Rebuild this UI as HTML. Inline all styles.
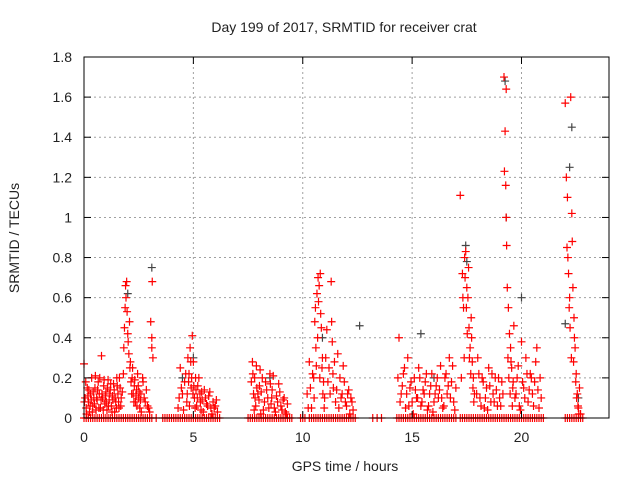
<!DOCTYPE html>
<html><head><meta charset="utf-8"><style>
body{margin:0;background:#fff;}
svg{font-family:"Liberation Sans",sans-serif;}
</style></head><body>
<svg id="chart" width="640" height="480">
<text x="344" y="32" font-size="14" text-anchor="middle" fill="#222">Day 199 of 2017, SRMTID for receiver crat</text>
<text x="345" y="471" font-size="14" text-anchor="middle" fill="#222">GPS time / hours</text>
<text transform="translate(19,238) rotate(-90)" font-size="14" text-anchor="middle" fill="#222">SRMTID / TECUs</text>
<g id="grid"></g>
<g id="marks"></g>
<rect x="84" y="57" width="525" height="361" fill="none" stroke="#000" stroke-width="1"/>
<g id="ticks"></g>
</svg>
<script>
const xTicks=[0,5,10,15,20];
const yTicks=[0,0.2,0.4,0.6,0.8,1,1.2,1.4,1.6,1.8];
const yTickLabels=["0","0.2","0.4","0.6","0.8","1","1.2","1.4","1.6","1.8"];
const redT=[0,0.05,0.1,0.15,0.2,0.25,0.3,0.35,0.4,0.45,0.5,0.55,0.6,0.65,0.7,0.75,0.8,0.85,0.9,0.95,1.0,1.05,1.1,1.15,1.2,1.25,1.3,1.35,1.4,1.45,1.5,1.55,1.6,1.65,1.7,
1.8,1.85,1.9,1.92,1.95,1.97,2.0,2.02,2.05,2.1,2.15,2.2,2.25,2.3,2.35,2.4,2.45,2.5,2.55,2.6,2.7,2.8,2.9,3.0,
3.05,3.1,3.12,3.15,3.1,
4.3,4.4,4.5,4.6,4.7,4.75,4.8,4.85,4.9,4.95,5.0,5.05,5.1,5.15,5.2,5.3,5.35,5.4,5.5,5.6,5.7,5.8,5.9,6.0,6.1,
7.7,7.75,7.8,7.85,7.9,8.0,8.05,8.1,8.2,8.3,8.4,8.5,8.55,8.6,8.7,8.8,8.9,9.0,9.1,9.2,9.3,
10.2,10.3,10.4,10.5,10.55,10.6,10.65,10.7,10.75,10.8,10.85,10.9,10.95,11.0,11.1,11.2,11.3,11.35,11.4,11.5,11.6,11.7,11.8,11.9,12.0,12.1,12.2,12.3,
14.4,14.5,14.6,14.7,14.8,14.9,15.0,15.1,15.2,15.3,15.4,15.5,15.6,15.7,15.8,15.9,16.0,16.1,16.2,16.3,16.4,16.5,16.6,16.7,16.8,16.9,17.0,
17.2,17.3,17.35,17.4,17.45,17.5,17.55,17.6,17.65,17.7,17.75,17.8,17.85,
18.0,18.1,18.2,18.3,18.4,18.5,18.6,18.7,18.8,18.9,19.0,19.1,
19.2,19.25,19.3,19.22,19.28,19.3,19.32,19.35,19.4,19.45,19.5,19.55,19.6,19.65,
19.7,19.8,19.9,20.0,20.1,20.2,20.3,20.4,20.5,20.6,20.7,20.8,20.9,
22.0,22.05,22.1,22.15,22.2,22.25,22.3,22.32,22.35,22.4,22.45,22.5,22.55,22.6,22.65,22.7];
const redV=[.27,.1,.05,.15,.08,.03,.12,.2,.06,.1,.15,.04,.09,.18,.12,.05,.31,.1,.16,.07,.13,.04,.19,.09,.14,.06,.11,.17,.03,.08,.2,.12,.05,.15,.1,
.22,.45,.66,.6,.68,.53,.42,.38,.32,.25,.18,.2,.12,.16,.08,.14,.22,.1,.05,.12,.18,.08,.06,.03,
.48,.4,.68,.3,.35,
.05,.25,.12,.18,.08,.3,.22,.35,.15,.41,.28,.1,.2,.06,.16,.12,.04,.09,.14,.07,.11,.05,.08,.06,.03,
.28,.12,.2,.06,.15,.09,.24,.13,.04,.18,.1,.22,.07,.14,.05,.11,.17,.06,.09,.03,.07,
.12,.28,.05,.2,.48,.35,.62,.7,.66,.72,.45,.3,.18,.1,.44,.25,.68,.38,.15,.08,.32,.2,.12,.18,.06,.14,.1,.04,
.4,.12,.22,.05,.3,.15,.08,.2,.1,.25,.06,.14,.18,.04,.12,.22,.08,.16,.1,.26,.05,.2,.12,.3,.18,.08,.15,
1.11,.72,.55,.8,.83,.65,.6,.45,.35,.5,.28,.2,.12,
.3,.1,.2,.05,.15,.25,.08,.12,.2,.06,.1,.18,
1.7,1.43,1.64,1.23,1.16,1.0,.86,.65,.55,.42,.35,.25,.15,.46,
.1,.2,.06,.38,.15,.3,.08,.22,.12,.18,.35,.05,.1,
1.57,1.2,1.1,.72,.6,1.6,1.02,.88,.65,.5,.35,.22,.12,.05,.15,.02];
const extraT=[0.02,0.08,0.12,0.18,0.22,0.28,0.33,0.38,0.42,0.48,0.52,0.58,0.62,0.68,0.72,0.78,0.82,0.88,0.92,0.98,1.02,1.08,1.12,1.18,1.22,1.28,1.32,1.38,1.42,1.48,1.52,1.58,1.62,1.68,1.75,1.82,1.88,2.08,2.12,2.18,2.22,2.28,2.32,2.38,2.42,2.48,2.52,2.58,2.62,2.68,2.75,2.85,2.95,
4.35,4.45,4.55,4.65,4.72,4.78,4.82,4.88,4.92,4.98,5.02,5.08,5.12,5.18,5.25,5.32,5.38,5.45,5.55,5.65,5.75,5.85,5.95,6.05,
7.65,7.72,7.78,7.82,7.88,7.95,8.02,8.08,8.15,8.25,8.35,8.45,8.52,8.58,8.65,8.75,8.85,8.95,9.05,9.15,9.25,
10.25,10.35,10.45,10.52,10.58,10.62,10.68,10.72,10.78,10.82,10.88,10.92,10.98,11.05,11.15,11.25,11.32,11.38,11.45,11.55,11.65,11.75,11.85,11.95,12.05,12.15,12.25,
14.35,14.45,14.55,14.65,14.75,14.85,14.95,15.05,15.15,15.25,15.35,15.45,15.55,15.65,15.75,15.85,15.95,16.05,16.15,16.25,16.35,16.45,16.55,16.65,16.75,16.85,16.95,
17.25,17.32,17.38,17.42,17.48,17.52,17.58,17.62,17.68,17.72,17.78,17.82,
17.95,18.05,18.15,18.25,18.35,18.45,18.55,18.65,18.75,18.85,18.95,19.05,19.15,
19.38,19.42,19.48,19.52,19.58,19.62,19.75,19.85,19.95,20.05,20.15,20.25,20.35,20.45,20.55,20.65,20.75,20.85,
22.08,22.12,22.18,22.22,22.28,22.38,22.42,22.48,22.52,22.58,22.62];
const extraV=[.08,.18,.02,.11,.14,.06,.09,.03,.13,.07,.21,.1,.14,.05,.2,.09,.12,.04,.19,.11,.08,.15,.06,.12,.17,.03,.09,.14,.1,.05,.16,.08,.2,.06,.13,.35,.55,.48,.28,.12,.25,.08,.19,.11,.06,.16,.13,.09,.03,.2,.1,.14,.05,
.1,.15,.04,.22,.12,.18,.06,.28,.2,.12,.16,.05,.14,.1,.2,.08,.13,.03,.1,.06,.13,.02,.05,.09,
.18,.22,.04,.1,.26,.12,.16,.02,.2,.08,.14,.05,.17,.1,.21,.03,.08,.13,.04,.1,.02,
.05,.15,.22,.1,.55,.26,.4,.58,.2,.52,.25,.12,.05,.3,.18,.12,.48,.22,.28,.14,.05,.1,.26,.08,.12,.02,.08,
.2,.08,.16,.25,.12,.06,.18,.02,.14,.1,.2,.08,.12,.22,.06,.16,.03,.12,.2,.14,.1,.06,.22,.16,.1,.26,.04,
.2,.6,.3,.7,.55,.42,.75,.3,.22,.4,.15,.08,
.12,.22,.06,.18,.1,.04,.16,.22,.08,.14,.2,.06,.12,
.3,.2,.12,.28,.06,.18,.12,.26,.04,.18,.1,.22,.14,.2,.06,.28,.14,.2,
.85,.8,.55,.45,.3,.28,.4,.18,.1,.06,.02];
const grayT=[2.0,3.1,4.5,5.0,8.5,10.9,12.6,15.4,16.0,17.45,17.5,19.25,19.3,20.0,22.0,22.2,22.3,22.6];
const grayV=[.62,.75,.2,.3,.2,.4,.46,.42,.2,.86,.78,1.68,1.0,.6,.47,1.25,1.45,.1];
const zeroT=[0.0,0.1,0.2,0.3,0.4,0.5,0.6,0.7,0.8,0.9,1.0,1.1,1.2,1.3,1.4,1.5,1.6,1.7,1.8,1.9,2.0,2.1,2.2,2.3,2.4,2.5,2.6,2.7,2.8,2.9,3.0,3.1,3.3,3.6,3.7,3.8,3.9,4.0,4.1,4.2,4.3,4.4,4.5,4.6,4.7,4.8,4.9,5.0,5.1,5.2,5.3,5.4,5.5,5.6,5.7,5.8,5.9,6.0,6.1,6.2,7.5,7.6,7.7,7.8,7.9,8.0,8.1,8.2,8.3,8.4,8.5,8.6,8.7,8.8,8.9,9.0,9.1,9.2,9.3,9.4,9.5,9.9,10.0,10.1,10.3,10.4,10.5,10.6,10.7,10.8,10.9,11.0,11.1,11.2,11.3,11.4,11.5,11.6,11.7,11.8,11.9,12.0,12.1,12.2,12.3,12.4,13.2,13.4,13.6,14.3,14.4,14.5,14.6,14.7,14.8,14.9,15.0,15.1,15.2,15.3,15.4,15.5,15.6,15.7,15.8,15.9,16.0,16.1,16.2,16.3,16.4,16.5,16.6,16.7,16.8,16.9,17.0,17.2,17.3,17.4,17.5,17.6,17.7,17.8,17.9,18.0,18.1,18.2,18.3,18.4,18.5,18.6,18.7,18.8,18.9,19.0,19.1,19.2,19.3,19.4,19.5,19.6,19.7,19.8,19.9,20.0,20.1,20.2,20.3,20.4,20.5,20.6,20.7,20.8,20.9,21.0,22.0,22.1,22.2,22.3,22.4,22.5,22.6,22.7,22.8];
const X=t=>84+t*525/24, Y=v=>418-v*361/1.8;
const ns="http://www.w3.org/2000/svg";
function mk(tag,attrs,parent){const e=document.createElementNS(ns,tag);for(const k in attrs)e.setAttribute(k,attrs[k]);parent.appendChild(e);return e;}
const grid=document.getElementById('grid'),ticks=document.getElementById('ticks'),marks=document.getElementById('marks');
xTicks.forEach(t=>{const x=X(t);
 if(t>0){const g=mk('line',{x1:x,x2:x,y1:57,y2:418,stroke:'#a0a0a0','stroke-dasharray':'2,3'},grid);
 
 }
 mk('line',{x1:x,x2:x,y1:418,y2:411,stroke:'#000'},ticks);mk('line',{x1:x,x2:x,y1:57,y2:64,stroke:'#000'},ticks);
 const l=mk('text',{x:x,y:442,'font-size':14,'text-anchor':'middle',fill:'#222'},ticks);l.textContent=t;
 
 });
yTicks.forEach((v,i)=>{const y=Y(v);
 if(v>0&&v<1.8){const g=mk('line',{x1:84,x2:609,y1:y,y2:y,stroke:'#a0a0a0','stroke-dasharray':'2,3'},grid);
 
 }
 mk('line',{x1:84,x2:91,y1:y,y2:y,stroke:'#000'},ticks);mk('line',{x1:602,x2:609,y1:y,y2:y,stroke:'#000'},ticks);
 const l=mk('text',{x:72,y:y+5,'font-size':14,'text-anchor':'end',fill:'#222'},ticks);l.textContent=yTickLabels[i];
 
 });
function plus(t,v,col){const x=X(t),y=Y(v);
 return mk('path',{d:`M${x-4} ${y}H${x+4}M${x} ${y-4}V${y+4}`,stroke:col,'stroke-width':1.2,fill:'none'},marks);}
grayT.forEach((t,i)=>{const p=plus(t,grayV[i],'#444');
 
 });
redT.forEach((t,i)=>{const p=plus(t,redV[i],'#ff0000');
 
 });
extraT.forEach((t,i)=>{const p=plus(t,extraV[i],'#ff0000');
 
 });
zeroT.forEach(t=>{const p=plus(t,0,'#ff0000');
 
 });
</script>
</body></html>
